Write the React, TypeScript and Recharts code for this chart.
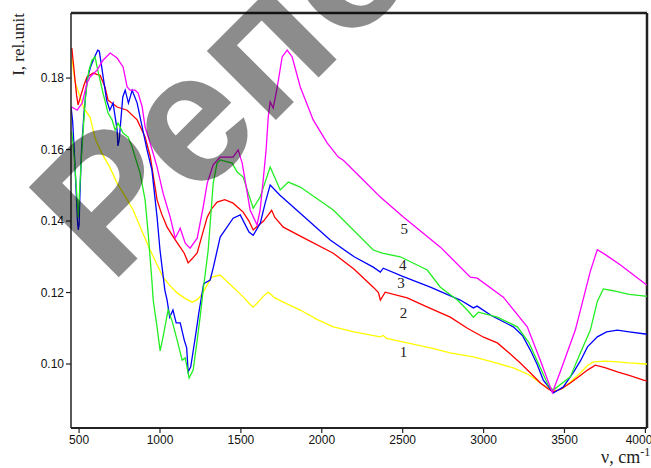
import React from 'react';
import { LineChart, Line, XAxis, YAxis, ReferenceLine, ReferenceDot } from 'recharts';

const xTicks = [500, 1000, 1500, 2000, 2500, 3000, 3500, 4000];
const yTicks = [0.1, 0.12, 0.14, 0.16, 0.18];

const curve1: [number, number][] = [
  [455, 0.1855], [475, 0.179], [500, 0.1755], [530, 0.1715], [568, 0.169], [600, 0.163], [640, 0.159],
  [690, 0.155], [735, 0.1506], [790, 0.1465], [834, 0.1431], [890, 0.137], [939, 0.1319], [980, 0.128],
  [1019, 0.1243], [1060, 0.122], [1106, 0.1199], [1150, 0.1185], [1199, 0.1173], [1230, 0.118],
  [1260, 0.1195], [1290, 0.122], [1320, 0.1243], [1372, 0.1249], [1452, 0.1215], [1510, 0.119],
  [1550, 0.117], [1575, 0.1159], [1600, 0.117], [1640, 0.119], [1669, 0.1201], [1710, 0.1185],
  [1762, 0.1173], [1867, 0.1151], [1970, 0.1125], [2071, 0.1104], [2200, 0.109], [2360, 0.1076],
  [2380, 0.108], [2400, 0.1072], [2528, 0.1059], [2671, 0.1045], [2794, 0.1031], [2937, 0.102],
  [3060, 0.1005], [3184, 0.0989], [3280, 0.097], [3351, 0.0947], [3400, 0.0932], [3425, 0.0925],
  [3460, 0.0927], [3493, 0.0933], [3550, 0.0955], [3598, 0.0975], [3640, 0.0995], [3679, 0.1006],
  [3750, 0.1008], [3827, 0.1006], [3900, 0.1003], [4000, 0.1], [4010, 0.1],
];

const curve2: [number, number][] = [
  [455, 0.1884], [465, 0.184], [475, 0.1794], [485, 0.175], [494, 0.1725], [510, 0.175], [530, 0.178],
  [549, 0.1803], [587, 0.1814], [610, 0.181], [630, 0.1808], [660, 0.1775], [679, 0.1738], [735, 0.1719],
  [797, 0.171], [859, 0.1683], [908, 0.1635], [940, 0.158], [982, 0.1459], [1010, 0.142], [1044, 0.1383],
  [1090, 0.135], [1125, 0.1327], [1150, 0.131], [1174, 0.1283], [1200, 0.1295], [1230, 0.1311],
  [1260, 0.136], [1292, 0.1411], [1320, 0.1435], [1353, 0.1453], [1400, 0.146], [1452, 0.145],
  [1514, 0.1425], [1550, 0.14], [1576, 0.1375], [1600, 0.1385], [1640, 0.14], [1669, 0.1417],
  [1690, 0.143], [1710, 0.141], [1762, 0.1383], [1900, 0.135], [2071, 0.131], [2200, 0.1265],
  [2318, 0.1215], [2350, 0.12], [2362, 0.1179], [2392, 0.1201], [2528, 0.1185], [2650, 0.116],
  [2794, 0.1131], [2900, 0.11], [3000, 0.1075], [3085, 0.1059], [3160, 0.103], [3227, 0.1003],
  [3290, 0.0975], [3351, 0.0947], [3400, 0.093], [3431, 0.0922], [3480, 0.093], [3536, 0.0947],
  [3590, 0.0965], [3642, 0.0983], [3691, 0.0997], [3750, 0.099], [3827, 0.0978], [3900, 0.0968],
  [3988, 0.0955], [4010, 0.0953],
];

const curve3: [number, number][] = [
  [450, 0.172], [460, 0.168], [470, 0.16], [480, 0.15], [490, 0.14], [495, 0.1375], [500, 0.139],
  [505, 0.147], [515, 0.16], [530, 0.17], [549, 0.1794], [570, 0.183], [587, 0.185], [615, 0.1878],
  [625, 0.1875], [640, 0.183], [670, 0.1738], [690, 0.171], [710, 0.173], [735, 0.1655], [740, 0.161],
  [748, 0.1627], [770, 0.1747], [785, 0.1766], [805, 0.173], [828, 0.1766], [859, 0.173], [890, 0.1663],
  [920, 0.1599], [950, 0.1543], [982, 0.1411], [1000, 0.1319], [1030, 0.1207], [1044, 0.1179],
  [1060, 0.1131], [1080, 0.1151], [1100, 0.1115], [1125, 0.1115], [1150, 0.1067], [1165, 0.1045],
  [1174, 0.0978], [1190, 0.0992], [1220, 0.108], [1240, 0.1143], [1270, 0.1225], [1310, 0.1235],
  [1330, 0.1271], [1372, 0.1355], [1452, 0.1408], [1496, 0.1417], [1550, 0.1369], [1576, 0.136],
  [1620, 0.1394], [1650, 0.145], [1681, 0.1501], [1740, 0.1473], [1867, 0.1422], [2052, 0.1347],
  [2200, 0.13], [2318, 0.1271], [2362, 0.1257], [2380, 0.1268], [2500, 0.1245], [2671, 0.1215],
  [2856, 0.1179], [2937, 0.1157], [2960, 0.1162], [3050, 0.1135], [3184, 0.1104], [3240, 0.108],
  [3289, 0.1039], [3330, 0.1], [3369, 0.0955], [3431, 0.0919], [3493, 0.0936], [3560, 0.098],
  [3600, 0.101], [3642, 0.1048], [3703, 0.1076], [3760, 0.109], [3827, 0.1095], [3900, 0.109],
  [4000, 0.1084], [4010, 0.1083],
];

const curve4: [number, number][] = [
  [455, 0.165], [470, 0.158], [485, 0.148], [495, 0.141], [505, 0.15], [520, 0.162], [540, 0.175],
  [560, 0.182], [580, 0.185], [599, 0.1859], [611, 0.1831], [648, 0.1758], [679, 0.1702], [704, 0.1683],
  [723, 0.1654], [741, 0.1674], [772, 0.1646], [803, 0.1635], [828, 0.1607], [846, 0.158], [877, 0.1534],
  [908, 0.1459], [927, 0.1366], [951, 0.1227], [958, 0.1179], [982, 0.1103], [1001, 0.1037],
  [1019, 0.1076], [1050, 0.1151], [1075, 0.112], [1106, 0.1067], [1137, 0.1011], [1156, 0.1017],
  [1180, 0.0961], [1205, 0.0983], [1230, 0.1067], [1248, 0.1131], [1267, 0.1207], [1298, 0.1319],
  [1329, 0.1506], [1353, 0.1562], [1372, 0.1571], [1446, 0.1562], [1477, 0.1537], [1514, 0.1523],
  [1576, 0.1436], [1619, 0.1467], [1681, 0.1551], [1743, 0.1487], [1793, 0.1509], [1867, 0.1495],
  [2071, 0.1431], [2318, 0.1319], [2374, 0.131], [2485, 0.13], [2652, 0.1263], [2733, 0.1215],
  [2838, 0.1179], [2899, 0.1151], [2937, 0.1131], [2968, 0.1145], [3085, 0.1131], [3209, 0.1104],
  [3280, 0.106], [3350, 0.099], [3400, 0.094], [3431, 0.0927], [3536, 0.0964], [3598, 0.1031],
  [3660, 0.1095], [3703, 0.1175], [3740, 0.121], [3800, 0.1205], [3900, 0.1195], [4000, 0.119],
  [4010, 0.119],
];

const curve5: [number, number][] = [
  [455, 0.1719], [488, 0.171], [519, 0.173], [549, 0.1786], [568, 0.1803], [611, 0.1822], [648, 0.185],
  [692, 0.187], [735, 0.1856], [772, 0.1831], [797, 0.1775], [815, 0.1766], [846, 0.1766], [865, 0.1758],
  [890, 0.1719], [908, 0.1663], [939, 0.1618], [970, 0.157], [982, 0.1551], [1019, 0.1478],
  [1063, 0.1411], [1094, 0.1352], [1125, 0.138], [1156, 0.1338], [1186, 0.1324], [1230, 0.1352],
  [1267, 0.1439], [1292, 0.1506], [1329, 0.1557], [1372, 0.1579], [1452, 0.1579], [1483, 0.1599],
  [1508, 0.1562], [1557, 0.1431], [1600, 0.1389], [1619, 0.1431], [1638, 0.1515], [1656, 0.16],
  [1669, 0.1691], [1681, 0.1733], [1700, 0.1716], [1725, 0.1775], [1755, 0.1859], [1786, 0.1878],
  [1817, 0.1859], [1867, 0.1775], [1947, 0.1683], [2034, 0.1618], [2102, 0.1579], [2133, 0.157],
  [2256, 0.1515], [2362, 0.1467], [2504, 0.1411], [2733, 0.1327], [2918, 0.1243], [2961, 0.124],
  [3122, 0.1187], [3270, 0.1104], [3351, 0.101], [3425, 0.092], [3475, 0.098], [3567, 0.1095],
  [3660, 0.126], [3703, 0.132], [3753, 0.1306], [3846, 0.1277], [4000, 0.1224], [4010, 0.1221],
];

const seriesNames = ['1', '2', '3', '4', '5'];
const seriesColors = ['#ffff00', '#ff0000', '#0000ff', '#22ee22', '#ff00ff'];
const seriesData = [curve1, curve2, curve3, curve4, curve5];
const labelX = [2505, 2505, 2490, 2500, 2510];
const labelY = [0.1034, 0.1145, 0.1227, 0.1277, 0.138];

const toRows = (arr: [number, number][]) => arr.map(([v, i]) => ({ v, i }));

const axisFont = { fontSize: 12, fill: '#111', fontFamily: 'Liberation Sans, Arial, sans-serif' };

export default function App() {
  return (
    <div style={{ position: 'absolute', left: 0, top: 0, width: 651, height: 468, background: '#fff' }}>
      <LineChart width={651} height={468} margin={{ top: 13, right: 4, left: 0, bottom: 0 }}>
        <XAxis
          type="number"
          dataKey="v"
          domain={[450, 4010]}
          ticks={xTicks}
          allowDataOverflow
          height={40}
          tickSize={5}
          tick={axisFont}
          axisLine={{ stroke: '#222', strokeWidth: 2 }}
          tickLine={{ stroke: '#222', strokeWidth: 1.2 }}
        />
        <YAxis
          type="number"
          domain={[0.0821, 0.1982]}
          ticks={yTicks}
          allowDataOverflow
          width={71}
          tickSize={5}
          tick={axisFont}
          tickFormatter={(t: number) => t.toFixed(2)}
          axisLine={{ stroke: '#222', strokeWidth: 1.5 }}
          tickLine={{ stroke: '#222', strokeWidth: 1.2 }}
        />
        <ReferenceLine y={0.1982} stroke="#222" strokeWidth={2.5} />
        <ReferenceLine x={4010} stroke="#222" strokeWidth={2.5} />
        {seriesData.map((d, k) => (
          <Line
            key={seriesNames[k]}
            data={toRows(d)}
            dataKey="i"
            type="linear"
            stroke={seriesColors[k]}
            strokeWidth={1.3}
            dot={false}
            isAnimationActive={false}
          />
        ))}
        {seriesNames.map((n, k) => (
          <ReferenceDot
            key={'lbl' + n}
            x={labelX[k]}
            y={labelY[k]}
            r={0}
            fill="none"
            stroke="none"
            label={{ value: n, position: 'center', fontSize: 15, fill: '#222', fontFamily: 'Liberation Serif, serif' }}
          />
        ))}
      </LineChart>
      <svg
        width={651}
        height={468}
        style={{ position: 'absolute', left: 0, top: 0, pointerEvents: 'none' }}
      >
        <text
          transform="translate(24,13) rotate(-90)"
          textAnchor="end"
          fontFamily="Liberation Serif, serif"
          fontSize={17}
          fill="#222"
        >
          I, rel.unit
        </text>
        <text x={601} y={463} fontFamily="Liberation Serif, serif" fontSize={18} fill="#222">
          ν, cm<tspan dy={-7} fontSize={12}>-1</tspan>
        </text>
        <text
          x={110}
          y={286}
          transform="rotate(-45 110 286)"
          fontFamily="Liberation Sans, Arial, sans-serif"
          fontWeight="bold"
          fontSize={185}
          fill="#000"
          fillOpacity={0.45}
        >
          Репозиторий
        </text>
      </svg>
    </div>
  );
}
